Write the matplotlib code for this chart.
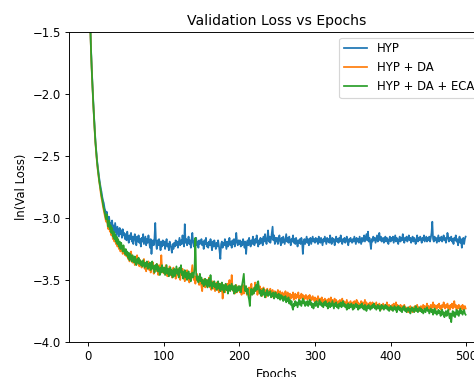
import matplotlib
matplotlib.use("Agg")
import matplotlib.pyplot as plt

hyp = [
 -0.40, -0.85, -1.15, -1.40, -1.62, -1.78, -1.92, -2.05, -2.17, -2.28,
 -2.38, -2.46, -2.53, -2.58, -2.63, -2.68, -2.72, -2.76, -2.79, -2.83,
 -2.86, -2.88, -2.92, -2.94, -2.97, -2.95, -3.00, -3.02, -2.99, -3.05,
 -3.04, -3.08, -3.02, -3.10, -3.06, -3.12, -3.04, -3.09, -3.14, -3.07,
 -3.11, -3.15, -3.08, -3.13, -3.10, -3.16, -3.09, -3.14, -3.12, -3.17,
 -3.13, -3.18, -3.11, -3.16, -3.20, -3.14, -3.17, -3.12, -3.19, -3.15,
 -3.21, -3.16, -3.13, -3.18, -3.22, -3.15, -3.19, -3.14, -3.20, -3.17,
 -3.23, -3.16, -3.19, -3.13, -3.21, -3.18, -3.15, -3.22, -3.17, -3.20,
 -3.14, -3.19, -3.24, -3.17, -3.29, -3.21, -3.18, -3.22, -3.16, -3.04,
 -3.20, -3.25, -3.18, -3.22, -3.17, -3.21, -3.26, -3.19, -3.23, -3.18,
 -3.22, -3.19, -3.25, -3.20, -3.17, -3.23, -3.21, -3.26, -3.19, -3.22,
 -3.24, -3.28, -3.21, -3.25, -3.20, -3.23, -3.18, -3.22, -3.19, -3.24,
 -3.20, -3.16, -3.22, -3.18, -3.21, -3.14, -3.19, -3.23, -3.05, -3.20,
 -3.17, -3.22, -3.19, -3.15, -3.21, -3.18, -3.24, -3.17, -3.12, -3.20,
 -3.23, -3.18, -3.21, -3.16, -3.22, -3.19, -3.24, -3.18, -3.21, -3.20,
 -3.17, -3.22, -3.19, -3.25, -3.18, -3.21, -3.16, -3.23, -3.20, -3.24,
 -3.19, -3.22, -3.17, -3.21, -3.26, -3.19, -3.23, -3.18, -3.21, -3.25,
 -3.20, -3.23, -3.18, -3.22, -3.27, -3.33, -3.21, -3.19, -3.24, -3.20,
 -3.22, -3.17, -3.21, -3.25, -3.19, -3.23, -3.20, -3.16, -3.22, -3.19,
 -3.24, -3.18, -3.21, -3.17, -3.23, -3.20, -3.12, -3.19, -3.22, -3.18,
 -3.21, -3.18, -3.23, -3.19, -3.22, -3.17, -3.20, -3.24, -3.19, -3.29,
 -3.21, -3.18, -3.22, -3.16, -3.20, -3.23, -3.18, -3.21, -3.15, -3.19,
 -3.22, -3.17, -3.20, -3.14, -3.19, -3.23, -3.18, -3.21, -3.16, -3.20,
 -3.17, -3.22, -3.15, -3.19, -3.13, -3.18, -3.21, -3.16, -3.10, -3.19,
 -3.15, -3.20, -3.17, -3.12, -3.07, -3.18, -3.14, -3.21, -3.16, -3.19,
 -3.16, -3.21, -3.17, -3.14, -3.19, -3.22, -3.16, -3.20, -3.15, -3.18,
 -3.21, -3.17, -3.13, -3.19, -3.16, -3.20, -3.15, -3.18, -3.22, -3.17,
 -3.19, -3.14, -3.20, -3.17, -3.21, -3.16, -3.19, -3.23, -3.18, -3.20,
 -3.17, -3.21, -3.16, -3.19, -3.29, -3.20, -3.17, -3.21, -3.18, -3.15,
 -3.20, -3.17, -3.22, -3.18, -3.16, -3.21, -3.18, -3.15, -3.19, -3.17,
 -3.20, -3.16, -3.19, -3.17, -3.21, -3.15, -3.18, -3.20, -3.16, -3.19,
 -3.22, -3.17, -3.19, -3.15, -3.18, -3.21, -3.16, -3.19, -3.17, -3.20,
 -3.14, -3.18, -3.21, -3.16, -3.19, -3.17, -3.22, -3.18, -3.15, -3.19,
 -3.17, -3.20, -3.16, -3.19, -3.14, -3.18, -3.21, -3.17, -3.19, -3.16,
 -3.20, -3.18, -3.15, -3.19, -3.22, -3.17, -3.19, -3.16, -3.18, -3.20,
 -3.17, -3.19, -3.15, -3.18, -3.21, -3.16, -3.19, -3.17, -3.20, -3.15,
 -3.18, -3.21, -3.16, -3.19, -3.17, -3.14, -3.19, -3.16, -3.13, -3.18,
 -3.11, -3.19, -3.16, -3.20, -3.25, -3.17, -3.19, -3.15, -3.18, -3.16,
 -3.20, -3.17, -3.14, -3.19, -3.16, -3.12, -3.18, -3.15, -3.19, -3.17,
 -3.16, -3.20, -3.17, -3.15, -3.19, -3.16, -3.18, -3.21, -3.17, -3.15,
 -3.19, -3.16, -3.18, -3.15, -3.20, -3.17, -3.14, -3.19, -3.16, -3.18,
 -3.21, -3.17, -3.15, -3.19, -3.16, -3.18, -3.13, -3.17, -3.20, -3.16,
 -3.18, -3.15, -3.19, -3.17, -3.14, -3.18, -3.16, -3.20, -3.17, -3.15,
 -3.19, -3.16, -3.18, -3.21, -3.17, -3.14, -3.19, -3.16, -3.18, -3.15,
 -3.17, -3.20, -3.16, -3.18, -3.14, -3.19, -3.17, -3.15, -3.19, -3.16,
 -3.18, -3.15, -3.19, -3.16, -3.12, -3.03, -3.17, -3.19, -3.15, -3.18,
 -3.16, -3.20, -3.17, -3.14, -3.19, -3.16, -3.18, -3.15, -3.19, -3.17,
 -3.14, -3.18, -3.16, -3.20, -3.17, -3.12, -3.15, -3.19, -3.16, -3.18,
 -3.15, -3.19, -3.17, -3.21, -3.16, -3.18, -3.14, -3.19, -3.17, -3.22,
 -3.18, -3.15, -3.20, -3.17, -3.24, -3.19, -3.16, -3.21, -3.17, -3.15,
]

hyp_da = [
 -0.40, -0.85, -1.15, -1.42, -1.63, -1.80, -1.94, -2.07, -2.19, -2.30,
 -2.40, -2.48, -2.55, -2.61, -2.66, -2.71, -2.75, -2.80, -2.84, -2.87,
 -2.91, -2.94, -2.97, -3.00, -3.03, -2.99, -3.06, -3.09, -3.04, -3.11,
 -3.08, -3.14, -3.10, -3.17, -3.13, -3.19, -3.15, -3.21, -3.18, -3.23,
 -3.19, -3.25, -3.21, -3.27, -3.22, -3.25, -3.29, -3.24, -3.27, -3.30,
 -3.26, -3.31, -3.28, -3.33, -3.29, -3.35, -3.30, -3.27, -3.33, -3.36,
 -3.31, -3.34, -3.38, -3.32, -3.35, -3.30, -3.37, -3.33, -3.39, -3.34,
 -3.36, -3.40, -3.35, -3.38, -3.33, -3.41, -3.37, -3.43, -3.36, -3.39,
 -3.35, -3.42, -3.38, -3.44, -3.37, -3.40, -3.36, -3.45, -3.39, -3.41,
 -3.43, -3.37, -3.40, -3.46, -3.38, -3.42, -3.39, -3.30, -3.41, -3.44,
 -3.40, -3.45, -3.42, -3.38, -3.44, -3.47, -3.41, -3.43, -3.39, -3.46,
 -3.42, -3.48, -3.44, -3.40, -3.45, -3.43, -3.49, -3.42, -3.46, -3.41,
 -3.47, -3.44, -3.50, -3.43, -3.46, -3.41, -3.48, -3.45, -3.51, -3.44,
 -3.47, -3.42, -3.49, -3.46, -3.52, -3.45, -3.48, -3.43, -3.38, -3.46,
 -3.50, -3.47, -3.53, -3.48, -3.45, -3.51, -3.49, -3.54, -3.47, -3.52,
 -3.55, -3.59, -3.51, -3.54, -3.49, -3.56, -3.52, -3.55, -3.50, -3.53,
 -3.48, -3.56, -3.52, -3.58, -3.54, -3.51, -3.57, -3.53, -3.59, -3.55,
 -3.52, -3.58, -3.54, -3.60, -3.56, -3.53, -3.59, -3.55, -3.65, -3.57,
 -3.54, -3.60, -3.56, -3.58, -3.53, -3.59, -3.55, -3.50, -3.57, -3.54,
 -3.46, -3.56, -3.59, -3.55, -3.61, -3.57, -3.54, -3.60, -3.56, -3.58,
 -3.55, -3.60, -3.57, -3.62, -3.58, -3.54, -3.61, -3.57, -3.59, -3.55,
 -3.62, -3.58, -3.60, -3.56, -3.63, -3.59, -3.53, -3.60, -3.57, -3.61,
 -3.58, -3.52, -3.59, -3.56, -3.62, -3.58, -3.60, -3.55, -3.61, -3.57,
 -3.63, -3.59, -3.56, -3.61, -3.58, -3.64, -3.60, -3.57, -3.62, -3.59,
 -3.61, -3.57, -3.63, -3.60, -3.58, -3.64, -3.61, -3.59, -3.63, -3.60,
 -3.62, -3.58, -3.64, -3.61, -3.59, -3.65, -3.62, -3.60, -3.64, -3.61,
 -3.63, -3.59, -3.65, -3.62, -3.60, -3.66, -3.63, -3.61, -3.65, -3.62,
 -3.64, -3.60, -3.66, -3.63, -3.61, -3.65, -3.62, -3.64, -3.60, -3.66,
 -3.63, -3.65, -3.61, -3.64, -3.62, -3.66, -3.63, -3.65, -3.62, -3.64,
 -3.66, -3.63, -3.65, -3.62, -3.67, -3.64, -3.66, -3.63, -3.65, -3.67,
 -3.64, -3.68, -3.65, -3.67, -3.63, -3.66, -3.69, -3.65, -3.67, -3.64,
 -3.68, -3.66, -3.69, -3.65, -3.67, -3.70, -3.66, -3.68, -3.65, -3.69,
 -3.67, -3.64, -3.68, -3.66, -3.70, -3.67, -3.65, -3.69, -3.66, -3.68,
 -3.71, -3.67, -3.69, -3.66, -3.70, -3.68, -3.65, -3.69, -3.67, -3.71,
 -3.68, -3.70, -3.66, -3.69, -3.72, -3.68, -3.70, -3.67, -3.69, -3.71,
 -3.68, -3.70, -3.67, -3.71, -3.69, -3.66, -3.70, -3.68, -3.72, -3.69,
 -3.71, -3.67, -3.70, -3.68, -3.72, -3.69, -3.66, -3.71, -3.68, -3.70,
 -3.72, -3.69, -3.71, -3.68, -3.73, -3.70, -3.68, -3.71, -3.69, -3.72,
 -3.70, -3.68, -3.73, -3.70, -3.72, -3.69, -3.71, -3.74, -3.70, -3.72,
 -3.69, -3.71, -3.73, -3.70, -3.72, -3.68, -3.71, -3.73, -3.70, -3.72,
 -3.71, -3.74, -3.70, -3.72, -3.69, -3.73, -3.71, -3.68, -3.72, -3.70,
 -3.73, -3.71, -3.74, -3.70, -3.72, -3.75, -3.71, -3.73, -3.70, -3.74,
 -3.72, -3.75, -3.73, -3.76, -3.72, -3.74, -3.71, -3.75, -3.73, -3.76,
 -3.72, -3.74, -3.71, -3.75, -3.73, -3.70, -3.74, -3.72, -3.75, -3.73,
 -3.71, -3.74, -3.72, -3.70, -3.73, -3.71, -3.74, -3.72, -3.69, -3.73,
 -3.71, -3.74, -3.72, -3.70, -3.73, -3.71, -3.68, -3.72, -3.70, -3.74,
 -3.71, -3.73, -3.70, -3.72, -3.69, -3.73, -3.71, -3.74, -3.70, -3.72,
 -3.68, -3.71, -3.73, -3.70, -3.72, -3.69, -3.73, -3.71, -3.74, -3.70,
 -3.72, -3.69, -3.73, -3.71, -3.67, -3.72, -3.70, -3.74, -3.71, -3.73,
 -3.70, -3.72, -3.75, -3.71, -3.73, -3.70, -3.74, -3.72, -3.71, -3.73,
]

hyp_da_eca = [
 -0.40, -0.85, -1.15, -1.41, -1.62, -1.79, -1.93, -2.06, -2.18, -2.29,
 -2.39, -2.47, -2.54, -2.60, -2.65, -2.70, -2.74, -2.78, -2.82, -2.85,
 -2.89, -2.92, -2.95, -2.98, -3.01, -2.97, -3.04, -3.07, -3.02, -3.09,
 -3.06, -3.12, -3.08, -3.15, -3.11, -3.17, -3.13, -3.19, -3.15, -3.21,
 -3.17, -3.23, -3.19, -3.25, -3.20, -3.24, -3.27, -3.22, -3.26, -3.29,
 -3.25, -3.30, -3.27, -3.32, -3.28, -3.34, -3.29, -3.31, -3.35, -3.30,
 -3.33, -3.36, -3.31, -3.35, -3.38, -3.33, -3.36, -3.32, -3.37, -3.34,
 -3.38, -3.35, -3.39, -3.34, -3.37, -3.40, -3.36, -3.39, -3.35, -3.41,
 -3.37, -3.40, -3.36, -3.42, -3.38, -3.35, -3.41, -3.39, -3.44, -3.38,
 -3.41, -3.37, -3.43, -3.39, -3.42, -3.46, -3.40, -3.44, -3.38, -3.42,
 -3.44, -3.40, -3.46, -3.42, -3.38, -3.45, -3.41, -3.47, -3.43, -3.40,
 -3.46, -3.42, -3.48, -3.44, -3.41, -3.47, -3.43, -3.39, -3.45, -3.42,
 -3.48, -3.40, -3.44, -3.38, -3.46, -3.43, -3.49, -3.45, -3.42, -3.48,
 -3.44, -3.50, -3.46, -3.43, -3.49, -3.45, -3.51, -3.47, -3.44, -3.48,
 -3.46, -3.39, -3.16, -3.45, -3.50, -3.47, -3.52, -3.48, -3.45, -3.51,
 -3.48, -3.53, -3.50, -3.55, -3.51, -3.49, -3.54, -3.50, -3.56, -3.52,
 -3.49, -3.55, -3.46, -3.53, -3.57, -3.52, -3.55, -3.51, -3.56, -3.53,
 -3.58, -3.54, -3.51, -3.57, -3.53, -3.59, -3.55, -3.52, -3.58, -3.54,
 -3.60, -3.56, -3.53, -3.58, -3.55, -3.61, -3.57, -3.54, -3.59, -3.56,
 -3.53, -3.58, -3.55, -3.61, -3.57, -3.54, -3.60, -3.56, -3.59, -3.55,
 -3.58, -3.55, -3.60, -3.56, -3.53, -3.49, -3.45, -3.56, -3.59, -3.55,
 -3.61, -3.57, -3.63, -3.66, -3.71, -3.60, -3.57, -3.62, -3.58, -3.61,
 -3.56, -3.59, -3.54, -3.58, -3.52, -3.51, -3.57, -3.61, -3.58, -3.63,
 -3.59, -3.62, -3.57, -3.61, -3.64, -3.60, -3.62, -3.58, -3.63, -3.60,
 -3.62, -3.59, -3.64, -3.61, -3.63, -3.60, -3.65, -3.62, -3.60, -3.64,
 -3.62, -3.65, -3.61, -3.64, -3.66, -3.62, -3.65, -3.63, -3.67, -3.64,
 -3.66, -3.63, -3.68, -3.65, -3.67, -3.64, -3.69, -3.66, -3.70, -3.67,
 -3.72, -3.74, -3.69, -3.71, -3.67, -3.70, -3.68, -3.72, -3.69, -3.66,
 -3.70, -3.67, -3.71, -3.68, -3.65, -3.69, -3.67, -3.71, -3.68, -3.70,
 -3.67, -3.71, -3.69, -3.66, -3.70, -3.68, -3.72, -3.69, -3.73, -3.70,
 -3.68, -3.71, -3.67, -3.70, -3.72, -3.69, -3.66, -3.70, -3.68, -3.71,
 -3.69, -3.72, -3.68, -3.70, -3.67, -3.71, -3.69, -3.73, -3.70, -3.68,
 -3.72, -3.69, -3.71, -3.67, -3.70, -3.73, -3.69, -3.71, -3.68, -3.72,
 -3.70, -3.73, -3.69, -3.71, -3.68, -3.72, -3.70, -3.67, -3.71, -3.69,
 -3.72, -3.70, -3.74, -3.71, -3.69, -3.73, -3.70, -3.72, -3.69, -3.71,
 -3.74, -3.70, -3.73, -3.71, -3.69, -3.72, -3.70, -3.74, -3.71, -3.73,
 -3.70, -3.72, -3.69, -3.73, -3.71, -3.74, -3.70, -3.72, -3.75, -3.71,
 -3.73, -3.70, -3.72, -3.74, -3.71, -3.73, -3.70, -3.72, -3.69, -3.73,
 -3.71, -3.74, -3.72, -3.70, -3.73, -3.71, -3.75, -3.72, -3.70, -3.73,
 -3.71, -3.74, -3.72, -3.70, -3.73, -3.71, -3.74, -3.72, -3.75, -3.73,
 -3.71, -3.74, -3.72, -3.75, -3.73, -3.71, -3.74, -3.72, -3.76, -3.73,
 -3.71, -3.74, -3.72, -3.75, -3.73, -3.76, -3.72, -3.74, -3.71, -3.75,
 -3.73, -3.76, -3.74, -3.72, -3.75, -3.73, -3.77, -3.74, -3.72, -3.75,
 -3.73, -3.76, -3.74, -3.71, -3.75, -3.73, -3.76, -3.74, -3.72, -3.75,
 -3.73, -3.76, -3.74, -3.77, -3.75, -3.73, -3.76, -3.74, -3.72, -3.75,
 -3.74, -3.77, -3.75, -3.73, -3.76, -3.74, -3.78, -3.75, -3.73, -3.77,
 -3.75, -3.78, -3.76, -3.74, -3.77, -3.75, -3.79, -3.76, -3.74, -3.78,
 -3.76, -3.80, -3.77, -3.75, -3.79, -3.76, -3.74, -3.78, -3.81, -3.77,
 -3.84, -3.78, -3.75, -3.79, -3.76, -3.80, -3.77, -3.74, -3.78, -3.75,
 -3.79, -3.76, -3.73, -3.77, -3.75, -3.78, -3.76, -3.74, -3.77, -3.78,
]

series = [("HYP", hyp), ("HYP + DA", hyp_da), ("HYP + DA + ECA", hyp_da_eca)]
title = "Validation Loss vs Epochs"
xlabel = "Epochs"
ylabel = "ln(Val Loss)"

DPI = 84
W, H = 474, 377
fig = plt.figure(figsize=(W / DPI, H / DPI), dpi=DPI)
ax = fig.add_axes([69 / W, 35 / H, 415.5 / W, 310 / H])
for name, vals in series:
    ax.plot(range(len(vals)), vals, label=name)
ax.set_ylim(-4.0, -1.5)
ax.set_title(title)
ax.set_xlabel(xlabel)
ax.set_ylabel(ylabel)
ax.legend(loc="upper right")
fig.savefig("out.png", dpi=DPI)
